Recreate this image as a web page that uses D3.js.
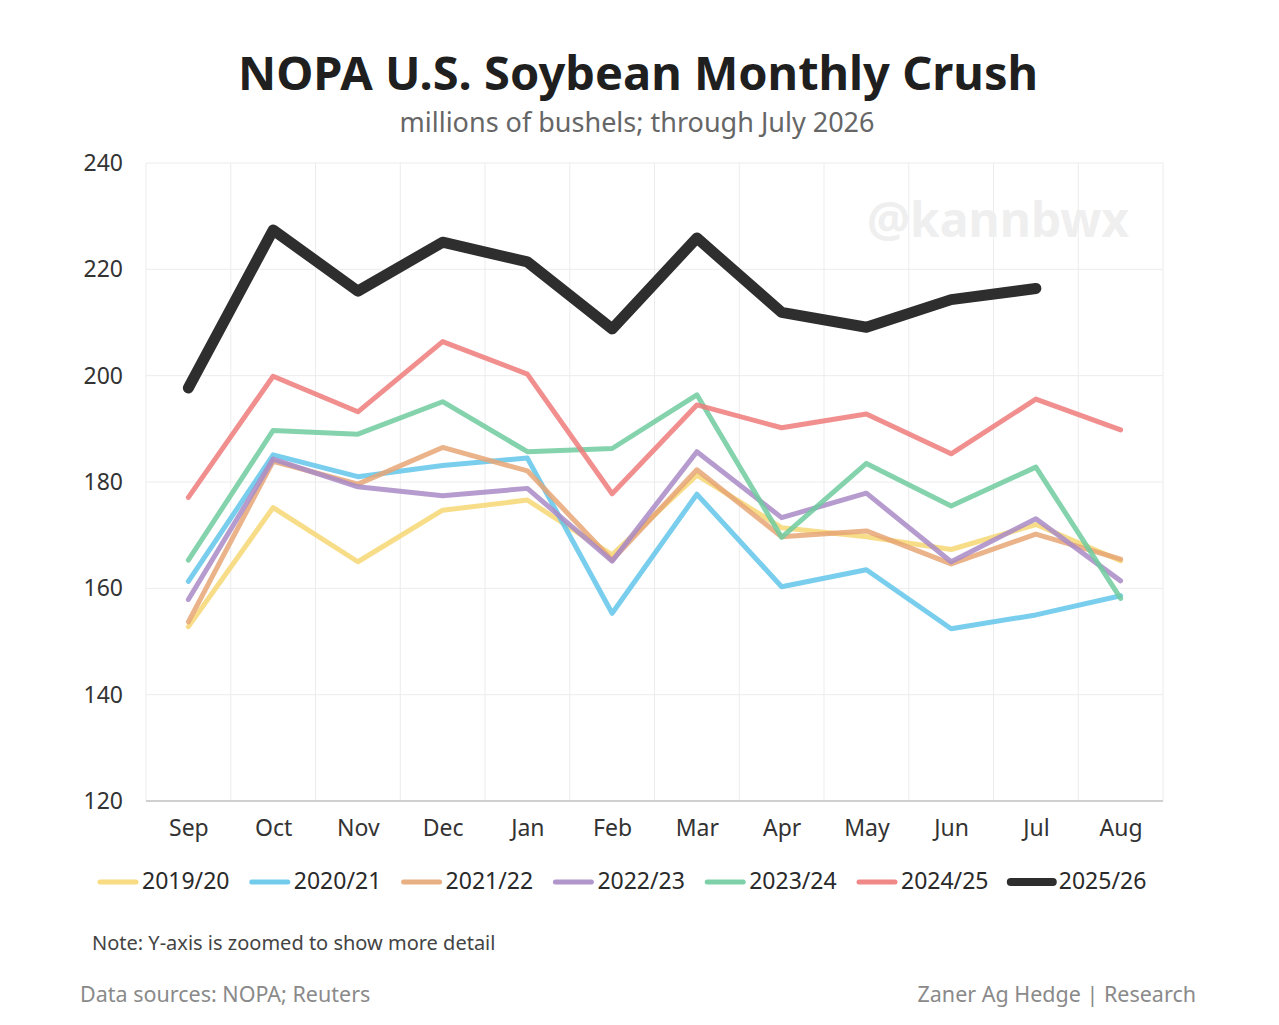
<!DOCTYPE html>
<html>
<head>
<meta charset="utf-8">
<script src="https://cdn.jsdelivr.net/npm/d3@7"></script>
<style>
  html, body { margin: 0; padding: 0; background: #fff; }
  svg { display: block; font-family: "Noto Sans", "Open Sans", sans-serif; }
</style>
</head>
<body>
<svg id="chart" width="1279" height="1025"></svg>
<script>
const months = ["Sep","Oct","Nov","Dec","Jan","Feb","Mar","Apr","May","Jun","Jul","Aug"];
const seasons = ["2019/20","2020/21","2021/22","2022/23","2023/24","2024/25","2025/26"];
const yTicks = [120,140,160,180,200,220,240];

const s2019 = [152.8,175.2,165.0,174.7,176.6,166.3,181.3,171.4,169.7,167.3,172.0,165.2];
const s2020 = [161.3,185.1,181.0,183.1,184.5,155.3,177.7,160.3,163.5,152.4,155.0,158.6];
const s2021 = [153.7,183.9,179.6,186.5,182.1,165.3,182.3,169.7,170.8,164.6,170.2,165.5];
const s2022 = [157.9,184.3,179.1,177.4,178.8,165.1,185.7,173.3,177.9,165.0,173.1,161.4];
const s2023 = [165.3,189.7,189.0,195.1,185.7,186.3,196.4,169.6,183.5,175.5,182.8,158.1];
const s2024 = [177.1,199.9,193.2,206.4,200.3,177.8,194.5,190.2,192.8,185.3,195.6,189.8];
const s2025 = [197.7,227.4,215.9,225.1,221.4,208.8,225.9,211.9,209.1,214.3,216.4];

const seriesValues = [s2019,s2020,s2021,s2022,s2023,s2024,s2025];
const colors = ["#f7d774","#62c6ea","#e6a676","#a98bc6","#6fcb9f","#ef7b7b","#2e2e2e"];

const svg = d3.select("#chart");
const m = {left:146, right:1163, top:163, bottom:801};

const x = d3.scalePoint().domain(months).range([m.left, m.right]).padding(0.5);
const xBand = d3.scaleBand().domain(months).range([m.left, m.right]);
const y = d3.scaleLinear().domain([120,240]).range([m.bottom, m.top]);

// Title
svg.append("text").attr("x", 638).attr("y", 90).attr("text-anchor","middle")
  .attr("font-size", 47).attr("font-weight", 700).attr("fill", "#1f1f1f")
  .text("NOPA U.S. Soybean Monthly Crush");
svg.append("text").attr("x", 637).attr("y", 132).attr("text-anchor","middle")
  .attr("font-size", 27).attr("fill", "#666")
  .text("millions of bushels; through July 2026");

// Grid
const grid = svg.append("g");
grid.selectAll("line.h").data(yTicks.slice(1)).join("line")
  .attr("x1", m.left).attr("x2", m.right)
  .attr("y1", d => y(d)).attr("y2", d => y(d))
  .attr("stroke", "#ececec").attr("stroke-width", 1);
grid.selectAll("line.v").data(months.map(mm => xBand(mm)).concat([m.right])).join("line")
  .attr("x1", d => d).attr("x2", d => d)
  .attr("y1", m.top).attr("y2", m.bottom)
  .attr("stroke", "#ececec").attr("stroke-width", 1);

// Watermark
svg.append("text").attr("x", 998).attr("y", 237).attr("text-anchor","middle")
  .attr("font-size", 48).attr("font-weight", 700).attr("fill", "#efefef")
  .text("@kannbwx");

// Axes
const yAxis = svg.append("g").attr("transform", `translate(${m.left},0)`)
  .call(d3.axisLeft(y).tickValues(yTicks).tickSize(0).tickPadding(23));
yAxis.select(".domain").remove();
yAxis.selectAll("text").attr("font-size", 23).attr("fill", "#333")
  .attr("font-family", "Noto Sans, sans-serif");

const xAxis = svg.append("g").attr("transform", `translate(0,${m.bottom})`)
  .call(d3.axisBottom(x).tickSize(0).tickPadding(22));
xAxis.select(".domain").attr("stroke", "#d0d0d0").attr("stroke-width", 2)
  .attr("d", `M${m.left},0H${m.right}`);
xAxis.selectAll("text").attr("font-size", 23).attr("fill", "#333")
  .attr("font-family", "Noto Sans, sans-serif").attr("dy", "0.55em");

// Lines
const line = d3.line().x((d,i) => x(months[i])).y(d => y(d));
const lines = svg.append("g");
seriesValues.forEach((vals, k) => {
  const last = k === seriesValues.length - 1;
  lines.append("path").datum(vals)
    .attr("d", line)
    .attr("fill", "none")
    .attr("stroke", colors[k])
    .attr("stroke-width", last ? 11 : 5)
    .attr("stroke-opacity", last ? 1 : 0.85)
    .attr("stroke-linejoin", "round")
    .attr("stroke-linecap", "round");
});

// Legend
const legend = svg.append("g");
seasons.forEach((s, k) => {
  const last = k === seasons.length - 1;
  const x0 = 98 + k * 151.8;
  legend.append("line").attr("x1", x0 + 2).attr("x2", x0 + (last ? 44 : 38))
    .attr("y1", 882).attr("y2", 882)
    .attr("stroke", colors[k]).attr("stroke-width", last ? 8 : 5)
    .attr("stroke-linecap", "round").attr("stroke-opacity", last ? 1 : 0.9);
  legend.append("text").attr("x", x0 + (last ? 50 : 44)).attr("y", 881).attr("dy", "0.35em")
    .attr("font-size", 23).attr("fill", "#2a2a2a").text(s);
});

// Notes
svg.append("text").attr("x", 92).attr("y", 950).attr("font-size", 20).attr("fill", "#444")
  .text("Note: Y-axis is zoomed to show more detail");
svg.append("text").attr("x", 80).attr("y", 1002).attr("font-size", 21.5).attr("fill", "#8a8a8a")
  .text("Data sources: NOPA; Reuters");
svg.append("text").attr("x", 1196).attr("y", 1002).attr("text-anchor","end").attr("font-size", 21.5).attr("fill", "#8a8a8a")
  .text("Zaner Ag Hedge | Research");
</script>
</body>
</html>
